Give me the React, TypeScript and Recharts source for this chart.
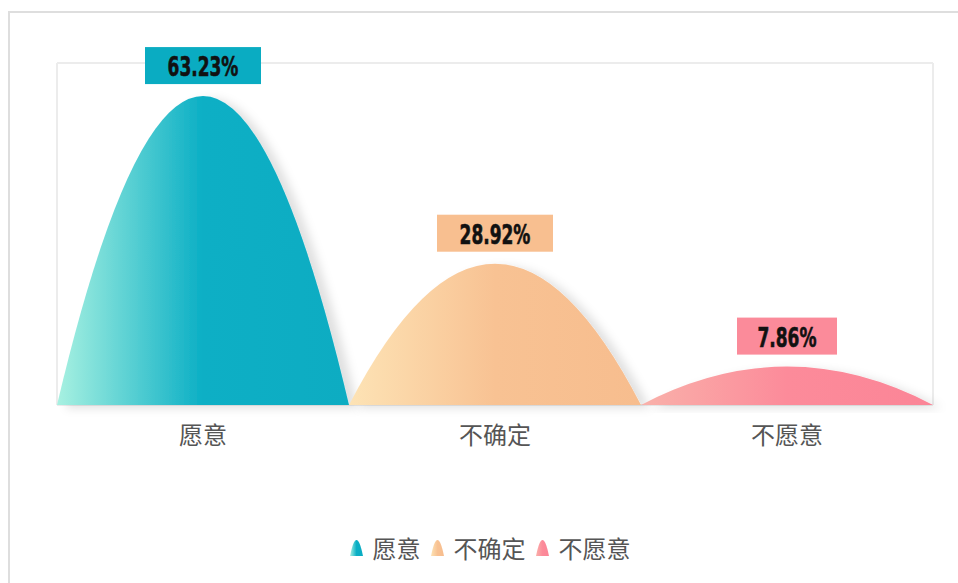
import React from "react";
import { BarChart, Bar, XAxis, YAxis, CartesianGrid, LabelList, Legend } from "recharts";

const categories = ["愿意", "不确定", "不愿意"];
const values = [63.23, 28.92, 7.86];
const labels = ["63.23%", "28.92%", "7.86%"];
const yDomain = [0, 70];

const gradients = [
  ["#a8f1e1", "#0bafc5", "#0aacc2"],
  ["#fde3b5", "#f8c293", "#f7bd8e"],
  ["#f9b1aa", "#fc8b9a", "#fb8597"],
];
const boxColors = ["#0aacc2", "#f8bf90", "#fb8b9a"];

const data = categories.map((name, i) => ({ name, value: values[i], label: labels[i], idx: i }));

const BellShape = (props: any) => {
  const { x, y, width, height, index } = props;
  const base = y + height;
  const cx = x + width / 2;
  const d = `M${x},${base} Q${cx},${base - 2 * height} ${x + width},${base} Z`;
  return <path d={d} fill={`url(#grad${index})`} filter="url(#shadow)" />;
};

const LabelBox = (props: any) => {
  const { x, y, width, index } = props;
  const text = labels[index];
  const w = text.length * 16 + 20;
  const h = 37;
  const cx = x + width / 2;
  const top = y - 12 - h;
  return (
    <g>
      <rect x={cx - w / 2} y={top} width={w} height={h} fill={boxColors[index]} />
      <text
        x={cx}
        y={top + h / 2 + 1}
        textAnchor="middle"
        dominantBaseline="central"
        fill="#111"
        stroke="#111"
        strokeWidth={0.6}
        textLength={text.length * 11.8}
        lengthAdjust="spacingAndGlyphs"
        style={{
          fontFamily: "'DejaVu Sans Condensed', 'DejaVu Sans', sans-serif",
          fontWeight: 700,
          fontSize: 27,
        }}
      >
        {text}
      </text>
    </g>
  );
};

const LegendContent = () => (
  <div
    style={{
      height: 108,
      display: "flex",
      justifyContent: "center",
      alignItems: "flex-start",
      paddingTop: 69,
      boxSizing: "border-box",
      fontFamily: "'Noto Sans CJK SC', sans-serif",
    }}
  >
    {categories.map((c, i) => (
      <div key={c} style={{ display: "flex", alignItems: "center", marginRight: 10 }}>
        <svg width={13} height={16} style={{ marginRight: 10 }}>
          <defs>
            <linearGradient id={`lg${i}`} x1="0" y1="0" x2="1" y2="0">
              <stop offset="0%" stopColor={gradients[i][0]} />
              <stop offset="50%" stopColor={gradients[i][1]} />
              <stop offset="100%" stopColor={gradients[i][2]} />
            </linearGradient>
          </defs>
          <path d="M0,16 Q6.5,-16 13,16 Z" fill={`url(#lg${i})`} />
        </svg>
        <span style={{ fontSize: 24, color: "#555", lineHeight: "28px" }}>{c}</span>
      </div>
    ))}
  </div>
);

export default function App() {
  return (
    <div style={{ position: "absolute", left: 0, top: 0, width: 958, height: 583, background: "#fff", overflow: "hidden" }}>
      <div
        style={{
          position: "absolute",
          left: 8,
          top: 11,
          width: 960,
          height: 580,
          borderTop: "2px solid #dedede",
          borderLeft: "2px solid #dedede",
        }}
      />
      <div style={{ position: "absolute", left: 0, top: 0 }}>
        <BarChart
          width={958}
          height={583}
          data={data}
          margin={{ top: 63, right: 25, left: 57, bottom: 10 }}
          barCategoryGap={0}
        >
          <defs>
            {gradients.map((g, i) => (
              <linearGradient key={i} id={`grad${i}`} x1="0" y1="0" x2="1" y2="0">
                <stop offset="0%" stopColor={g[0]} />
                <stop offset="50%" stopColor={g[1]} />
                <stop offset="100%" stopColor={g[2]} />
              </linearGradient>
            ))}
            <filter id="shadow" x="-20%" y="-20%" width="140%" height="140%">
              <feDropShadow dx={9} dy={3} stdDeviation={5} floodColor="#000" floodOpacity={0.12} />
            </filter>
          </defs>
          <CartesianGrid
            stroke="#ececec"
            strokeWidth={2}
            horizontalCoordinatesGenerator={(p: any) => [p.offset.top, p.offset.top + p.offset.height]}
            verticalCoordinatesGenerator={(p: any) => [p.offset.left, p.offset.left + p.offset.width]}
          />
          <XAxis
            dataKey="name"
            axisLine={false}
            tickLine={false}
            height={60}
            tickMargin={16}
            tick={{ fill: "#555", fontSize: 24, fontFamily: "'Noto Sans CJK SC', sans-serif" }}
          />
          <YAxis hide domain={yDomain} />
          <Legend verticalAlign="bottom" height={108} content={<LegendContent />} />
          <Bar dataKey="value" shape={<BellShape />} isAnimationActive={false}>
            <LabelList dataKey="label" content={<LabelBox />} />
          </Bar>
        </BarChart>
      </div>
    </div>
  );
}
